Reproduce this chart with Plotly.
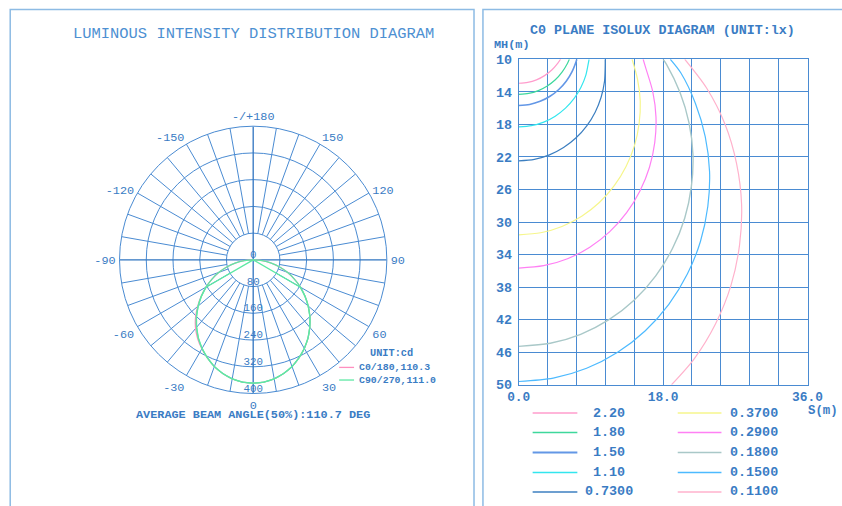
import plotly.graph_objects as go

# ---------------- data: luminous intensity (cd) ----------------
POLAR_ANGLES = [-90, -85, -80, -75, -70, -65, -60, -55, -50, -45, -40, -35, -30, -25, -20, -15, -10, -5,
                0, 5, 10, 15, 20, 25, 30, 35, 40, 45, 50, 55, 60, 65, 70, 75, 80, 85, 90]
C0_180 = [0, 27, 55, 82, 109, 136, 163, 190, 217, 244, 268, 289, 307, 324, 340, 352, 361.5, 367,
          369, 367, 361.5, 352, 340, 324, 306, 286, 263.5, 240, 215, 189, 163, 136, 109, 82, 55, 27, 0]
C90 = [0, 27, 55, 82, 109, 136, 163, 189, 215, 240, 263.5, 286, 306, 324, 340, 352, 361.5, 367,
       369, 367, 361.5, 352, 340, 324, 306, 286, 263.5, 240, 215, 189, 163, 136, 109, 82, 55, 27, 0]
C270 = [0, 0, 0, 0, 0, 0, 163, 189, 215, 240, 263.5, 286, 306, 324, 340, 352, 361.5, 367,
        369, 367, 361.5, 352, 340, 324, 306, 286, 263.5, 240, 215, 189, 163, 0, 0, 0, 0, 0, 0]
RADIAL_TICKS = [0, 80, 160, 240, 320, 400]
ANG_TICKVALS = [0, 30, 60, 90, 120, 150, 180, 210, 240, 270, 300, 330]
ANG_TICKTEXT = ["0", "30", "60", "90", "120", "150", "-/+180", "-150", "-120", "-90", "-60", "-30"]
POLAR_LEGEND = ["C0/180,110.3", "C90/270,111.0"]

# ---------------- data: isolux curves (S m, MH m) ----------------
ISO_LABELS = ["2.20", "1.80", "1.50", "1.10", "0.7300", "0.3700", "0.2900", "0.1800", "0.1500", "0.1100"]
S_220 = [0, 1.12, 2.21, 3.22, 4.12, 4.88, 5.21]
H_220 = [12.95, 12.84, 12.53, 12.01, 11.32, 10.47, 10.0]
S_180 = [0, 1.24, 2.44, 3.56, 4.56, 5.40, 6.07, 6.31]
H_180 = [14.32, 14.2, 13.85, 13.28, 12.52, 11.58, 10.51, 10.0]
S_150 = [0, 1.36, 2.67, 3.90, 4.99, 5.92, 6.65, 7.17, 7.24]
H_150 = [15.68, 15.55, 15.17, 14.55, 13.71, 12.69, 11.51, 10.23, 10.0]
S_110 = [0, 1.59, 3.12, 4.55, 5.83, 6.91, 7.76, 8.37, 8.70, 8.77]
H_110 = [18.32, 18.16, 17.72, 16.99, 16.01, 14.81, 13.44, 11.95, 10.37, 10.0]
S_073 = [0, 1.95, 3.83, 5.59, 7.15, 8.48, 9.53, 10.27, 10.69, 10.78, 10.78]
H_073 = [22.48, 22.30, 21.75, 20.85, 19.65, 18.18, 16.50, 14.67, 12.74, 10.78, 10.0]
S_037 = [0, 2.74, 5.39, 7.85, 10.05, 11.91, 13.38, 14.43, 15.01, 15.15, 14.80, 14.13]
H_037 = [31.58, 31.32, 30.55, 29.29, 27.61, 25.54, 23.17, 20.61, 17.89, 15.15, 12.42, 10.0]
S_029 = [0, 3.10, 6.08, 8.86, 11.35, 13.45, 15.11, 16.30, 16.96, 17.11, 16.72, 15.84, 15.51]
H_029 = [35.67, 35.37, 34.51, 33.09, 31.18, 28.85, 26.18, 23.27, 20.21, 17.11, 14.03, 11.09, 10.0]
S_018 = [0, 3.93, 7.72, 11.25, 14.41, 17.08, 19.18, 20.69, 21.52, 21.72, 21.23, 20.11, 18.44, 18.0]
H_018 = [45.28, 44.90, 43.80, 42.0, 39.58, 36.62, 33.23, 29.54, 25.65, 21.72, 17.81, 14.08, 10.65, 10.0]
S_015 = [0, 4.30, 8.46, 12.33, 15.78, 18.71, 21.02, 22.66, 23.57, 23.79, 23.25, 22.03, 20.2, 18.9]
H_015 = [49.6, 49.19, 47.98, 46.01, 43.36, 40.12, 36.40, 32.36, 28.09, 23.79, 19.51, 15.43, 11.66, 10.0]
S_011 = [19.05, 21.85, 24.54, 26.46, 27.53, 27.78, 27.15, 25.73, 23.4, 20.7]
H_011 = [50.0, 46.85, 42.5, 37.79, 32.81, 27.78, 22.78, 18.01, 13.5, 10.0]
X_TICKVALS = [0, 18, 36]
X_TICKTEXT = ["0.0", "18.0", "36.0"]
Y_TICKVALS = [10, 14, 18, 22, 26, 30, 34, 38, 42, 46, 50]

# ---------------- styles ----------------
W, H = 842, 506
# the photographed page comes out slightly shrunk/offset; compensate
SX, OX, SY, OY = 0.974, 7.8, 0.969, 5.8
FS = 1 / ((SX + SY) / 2)                   # font compensation
FONT = "Liberation Mono"
TEXT = "#3a7cc4"
GRID = "#4a8bd2"
AXIS = "#2f74c0"
BORDER = "#8dbbe4"
PINK = "#ff8fbf"
GREEN = "#5ee8a4"
ISO_COLORS = ["#ff9ccc", "#3ed89c", "#6397e6", "#33e6ee", "#3d7fc0",
              "#f6f68c", "#ff80f4", "#a9c8c8", "#4dbaff", "#ffb2cc"]
ISO_WIDTHS = [1.2, 1.2, 1.6, 1.2, 1.2, 1.2, 1.2, 1.4, 1.2, 1.2]

cx, cy, rad = 250.5, 259.3, 134.5          # polar centre / radius in target px
PX2CD = RADIAL_TICKS[-1] / rad             # cd per pixel on the radial axis


def px(x):
    return ((x - OX) / SX) / W


def py(y):
    return 1 - ((y - OY) / SY) / H


def fs(s):
    return round(s * FS, 2)


fig = go.Figure()

# ---- polar grid spokes (every 10 deg, from the 80 ring outward) ----
sp_t, sp_r = [], []
for a in range(0, 360, 10):
    if a % 90 == 0:
        continue
    sp_t += [a, a, None]
    sp_r += [RADIAL_TICKS[1], RADIAL_TICKS[-1], None]
fig.add_trace(go.Scatterpolar(theta=sp_t, r=sp_r, mode="lines",
                              line=dict(color=GRID, width=1), hoverinfo="skip"))
cr_t, cr_r = [], []
for a in (0, 90):
    cr_t += [a, a + 180, None]
    cr_r += [RADIAL_TICKS[-1], RADIAL_TICKS[-1], None]
fig.add_trace(go.Scatterpolar(theta=cr_t, r=cr_r, mode="lines",
                              line=dict(color=AXIS, width=1.3), hoverinfo="skip"))

# ---- intensity curves ----
fig.add_trace(go.Scatterpolar(theta=POLAR_ANGLES, r=C0_180, mode="lines",
                              line=dict(color=PINK, width=1.3, shape="spline", smoothing=0.6)))
fig.add_trace(go.Scatterpolar(theta=POLAR_ANGLES, r=C270, mode="lines",
                              line=dict(color=GREEN, width=1.3)))
fig.add_trace(go.Scatterpolar(theta=POLAR_ANGLES, r=C90, mode="lines",
                              line=dict(color=GREEN, width=1.3, shape="spline", smoothing=0.6)))

# ---- radial labels (centred on the 0-deg spoke, just inside each ring) ----
lab_t, lab_r = [], []
for v in RADIAL_TICKS:
    if v == 0:
        lab_t.append(180)
        lab_r.append(5 * PX2CD)
    else:
        lab_t.append(0)
        lab_r.append(v - 4.6 * PX2CD)
fig.add_trace(go.Scatterpolar(theta=lab_t, r=lab_r, mode="text",
                              text=[str(v) for v in RADIAL_TICKS], textposition="middle center",
                              textfont=dict(family=FONT, size=fs(10.5), color=TEXT),
                              cliponaxis=False, hoverinfo="skip"))

# ---- isolux curves ----
ISO_S = [S_220, S_180, S_150, S_110, S_073, S_037, S_029, S_018, S_015, S_011]
ISO_H = [H_220, H_180, H_150, H_110, H_073, H_037, H_029, H_018, H_015, H_011]
for s, h, c, w in zip(ISO_S, ISO_H, ISO_COLORS, ISO_WIDTHS):
    fig.add_trace(go.Scatter(x=s, y=h, mode="lines", xaxis="x", yaxis="y",
                             line=dict(color=c, width=w, shape="spline", smoothing=0.8),
                             hoverinfo="skip"))

fig.update_layout(
    autosize=True, margin=dict(l=0, r=0, t=0, b=0),
    paper_bgcolor="white", plot_bgcolor="white", showlegend=False,
    font=dict(family=FONT, color=TEXT),
    polar=dict(
        domain=dict(x=[px(cx - rad), px(cx + rad)], y=[py(cy + rad), py(cy - rad)]),
        bgcolor="white",
        radialaxis=dict(range=[0, 400], tickvals=RADIAL_TICKS[1:], showticklabels=False,
                        ticks="", showline=False, gridcolor=GRID, gridwidth=1),
        angularaxis=dict(rotation=-90, direction="counterclockwise",
                         tickvals=ANG_TICKVALS, ticktext=ANG_TICKTEXT, showgrid=False,
                         ticks="outside", ticklen=1, tickcolor="rgba(0,0,0,0)",
                         linecolor=GRID, linewidth=1,
                         tickfont=dict(family=FONT, size=fs(11.5), color=TEXT)),
    ),
    xaxis=dict(domain=[px(517.7), px(808.3)], range=[0, 36], tickvals=X_TICKVALS,
               ticktext=X_TICKTEXT, showgrid=True, gridcolor=GRID, gridwidth=1.1,
               minor=dict(dtick=3.6, tick0=0, showgrid=True, gridcolor=GRID, gridwidth=1.1),
               showline=True, linecolor=GRID, linewidth=1.1, mirror=True, zeroline=False,
               ticks="", tickfont=dict(family=FONT, size=fs(12.5), color=TEXT, weight="bold")),
    yaxis=dict(domain=[py(384), py(59)], range=[50, 10], tickvals=Y_TICKVALS,
               showgrid=True, gridcolor=GRID, gridwidth=1.1,
               showline=True, linecolor=GRID, linewidth=1.1, mirror=True, zeroline=False,
               ticks="", ticklabelstandoff=3,
               tickfont=dict(family=FONT, size=fs(13), color=TEXT, weight="bold")),
)

shapes = [
    dict(type="rect", xref="paper", yref="paper", x0=px(6.0), x1=px(472.7), y0=py(540), y1=py(9.3),
         line=dict(color=BORDER, width=1.5)),
    dict(type="rect", xref="paper", yref="paper", x0=px(481.7), x1=px(880), y0=py(540), y1=py(9.3),
         line=dict(color=BORDER, width=1.5)),
]
ann = [
    dict(text="LUMINOUS INTENSITY DISTRIBUTION DIAGRAM", x=px(250.5), y=py(34),
         font=dict(size=15, color="#4d90d2")),
    dict(text="<b>C0 PLANE ISOLUX DIAGRAM (UNIT:lx)</b>", x=px(662.5), y=py(30), font=dict(size=13)),
    dict(text="<b>MH(m)</b>", x=px(511), y=py(45), font=dict(size=11.5)),
    dict(text="<b>S(m)</b>", x=px(824), y=py(410.5), font=dict(size=12)),
    dict(text="<b>AVERAGE BEAM ANGLE(50%):110.7 DEG</b>", x=px(250.5), y=py(414.5), font=dict(size=11.5)),
    dict(text="<b>UNIT:cd</b>", x=px(390), y=py(352.3), font=dict(size=10)),
]
# polar legend
for i, (lab, col) in enumerate(zip(POLAR_LEGEND, [PINK, GREEN])):
    yy = 366.7 + i * 12.6
    shapes.append(dict(type="line", xref="paper", yref="paper", x0=px(337), x1=px(352),
                       y0=py(yy), y1=py(yy), line=dict(color=col, width=1.3)))
    ann.append(dict(text="<b>" + lab + "</b>", x=px(355), y=py(yy), xanchor="left",
                    font=dict(size=9.6)))
# isolux legend
rows = [412.3, 431.7, 451.7, 471.7, 491.0]
for i, (lab, col, w) in enumerate(zip(ISO_LABELS, ISO_COLORS, ISO_WIDTHS)):
    colx = i // 5
    yy = rows[i % 5]
    lx0, lx1, tx = (531.7, 576.7, 609) if colx == 0 else (677.7, 721.7, 754)
    shapes.append(dict(type="line", xref="paper", yref="paper", x0=px(lx0), x1=px(lx1),
                       y0=py(yy), y1=py(yy), line=dict(color=col, width=w + 0.3)))
    ann.append(dict(text="<b>" + lab + "</b>", x=px(tx), y=py(yy), font=dict(size=13)))

for a in ann:
    a.update(xref="paper", yref="paper", showarrow=False)
    a.setdefault("xanchor", "center")
    a["yanchor"] = "middle"
    a["font"] = dict(family=FONT, color=a["font"].get("color", TEXT), size=fs(a["font"]["size"]))
fig.update_layout(shapes=shapes, annotations=ann)

fig.write_html(
    "out.html",
    config={"displayModeBar": False, "responsive": True},
    default_width="100vw", default_height="100vh",
    post_script=("document.documentElement.style.margin='0';"
                 "document.body.style.margin='0';document.body.style.padding='0';"
                 "document.body.style.overflow='hidden';"
                 "var gd=document.getElementById('{plot_id}');Plotly.Plots.resize(gd);"),
)
